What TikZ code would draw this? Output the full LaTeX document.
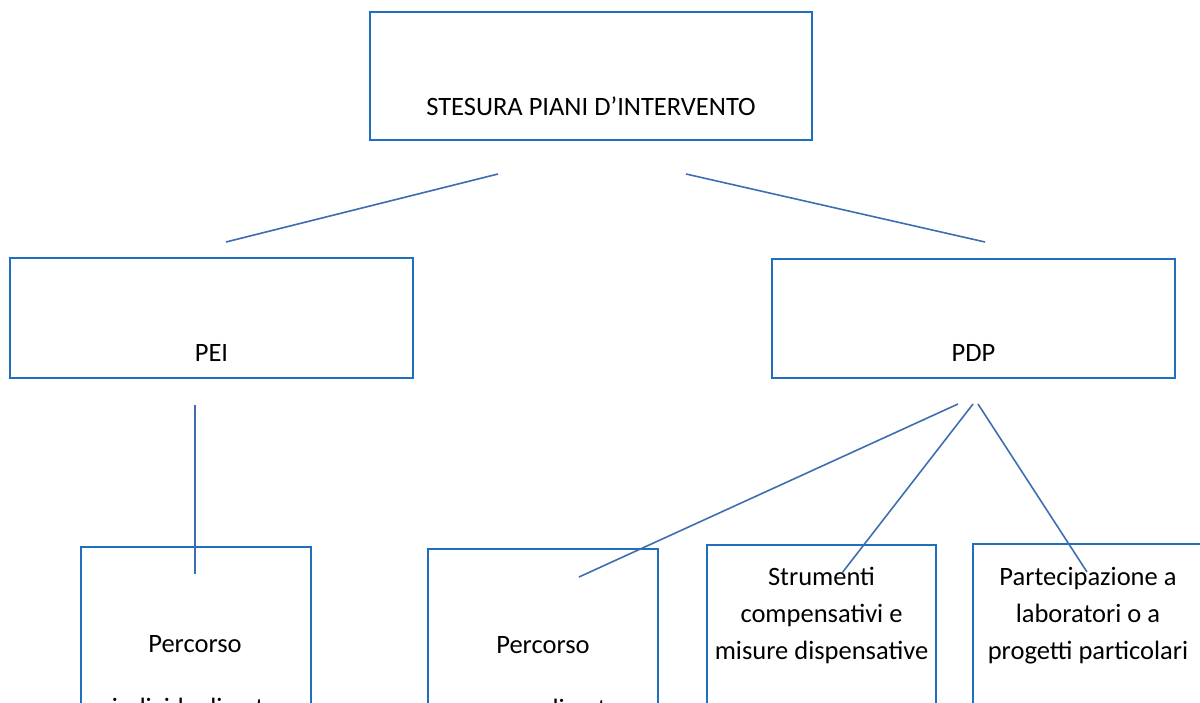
\documentclass[tikz,border=0pt]{standalone}
\usepackage{fontspec}
\setmainfont{Carlito}
\usetikzlibrary{positioning}
\usetikzlibrary{calc}
\definecolor{boxblue}{RGB}{30,112,190}
\definecolor{lineblue}{RGB}{62,110,176}

\begin{document}
\begin{tikzpicture}[x=1pt,y=-1pt]
\tikzset{
box/.style = {rectangle,draw=boxblue,
              line width=1.8pt,
              anchor=north west,
              inner sep=0pt,
              outer sep=0pt},
lbl/.style = {anchor=base,
              align=center,
              inner sep=0pt,
              font=\fontsize{26.5}{37}\selectfont},
link/.style = {draw=lineblue,
               line width=1.6pt}
}

\useasboundingbox (0,0) rectangle (1200,702);
\clip (0,0) rectangle (1200,702);

\node[box, minimum width=442pt, minimum height=128pt] (piani) at (370,12)  {};
\node[box, minimum width=403pt, minimum height=120pt] (pei)   at (10,258)  {};
\node[box, minimum width=403pt, minimum height=119pt] (pdp)   at (772,259) {};
\node[box, minimum width=230pt, minimum height=200pt] (ind)   at (81,547)  {};
\node[box, minimum width=230pt, minimum height=200pt] (pers)  at (428,549) {};
\node[box, minimum width=229pt, minimum height=200pt] (strum) at (707,545) {};
\node[box, minimum width=230pt, minimum height=200pt] (lab)   at (973,544) {};

\node[lbl] (piani-t) at ($(piani.north)+(0,103)$) {STESURA PIANI D’INTERVENTO};
\node[lbl] (pei-t)   at ($(pei.north)+(0,103)$)   {PEI};
\node[lbl] (pdp-t)   at ($(pdp.north)+(0,102)$)   {PDP};
\node[lbl] (ind-t)   at ($(ind.north)+(-1,105)$)  {Percorso};
\node[lbl] (ind-b)   at ($(ind.north)+(-1,169)$)  {individualizzato};
\node[lbl] (pers-t)  at ($(pers.north)+(0,104)$)  {Percorso};
\node[lbl] (pers-b)  at ($(pers.north)+(0,168)$)  {personalizzato};
\node[lbl] (strum-t) at ($(strum.north)+(0,114)$) {Strumenti\\compensativi e\\misure dispensative};
\node[lbl] (lab-t)   at ($(lab.north)+(0,115)$)   {Partecipazione a\\laboratori o a\\progetti particolari};

\coordinate (piani-l) at (498,174);
\coordinate (piani-r) at (686,174);
\coordinate (pei-up)  at (226,242);
\coordinate (pdp-up)  at (985,242);
\coordinate (pei-dn)  at (195,405);
\coordinate (ind-up)  at (195,574);
\coordinate (pdp-a)   at (958,404);
\coordinate (pdp-b)   at (973,404);
\coordinate (pdp-c)   at (978,404);
\coordinate (pers-up) at (579,577);
\coordinate (strum-up) at (842,573);
\coordinate (lab-up)  at (1087,572);

\draw[link] (piani-l) -- (pei-up);
\draw[link] (piani-r) -- (pdp-up);
\draw[link] (pei-dn) -- (ind-up);
\draw[link] (pdp-a) -- (pers-up);
\draw[link] (pdp-b) -- (strum-up);
\draw[link] (pdp-c) -- (lab-up);
\end{tikzpicture}
\end{document}
